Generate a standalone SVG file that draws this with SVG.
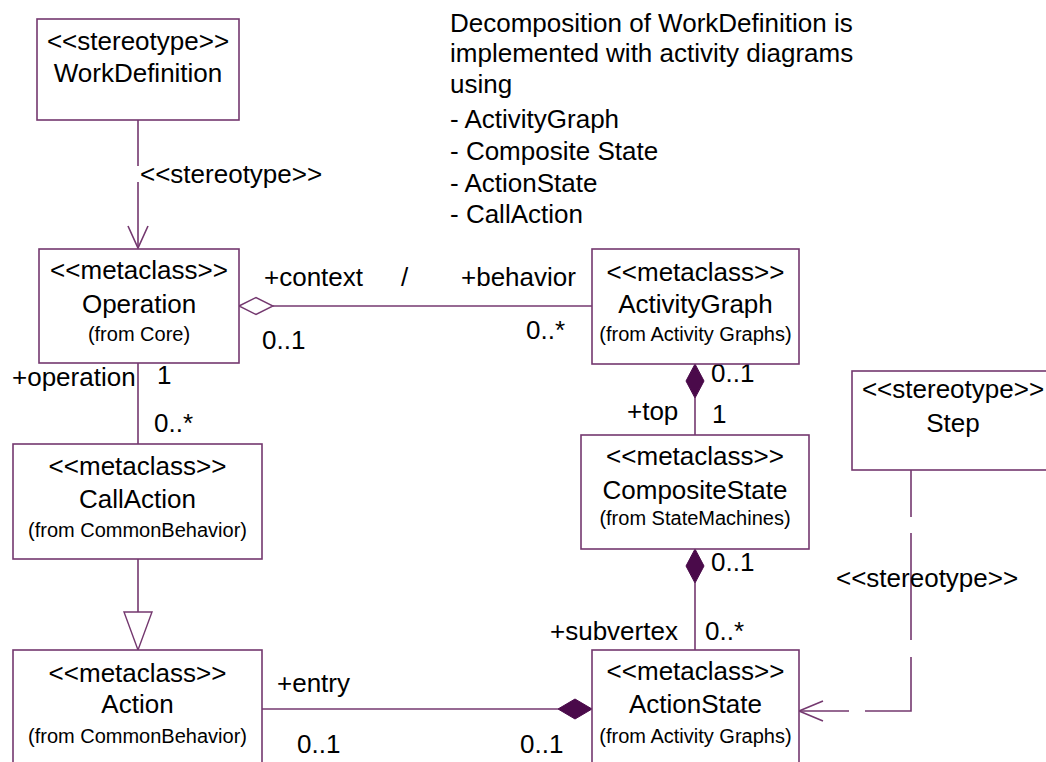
<svg xmlns="http://www.w3.org/2000/svg" width="1046" height="762" viewBox="0 0 1046 762">
<style>
.box{fill:#fff;stroke:#74386f;stroke-width:1.6}
.ln{fill:none;stroke:#74386f;stroke-width:1.6}
.fd{fill:#4a0a4a;stroke:#4a0a4a;stroke-width:1}
.hd{fill:#fff;stroke:#74386f;stroke-width:1.4}
text{font-family:"Liberation Sans",Arial,sans-serif;fill:#000}
.t{font-size:26px}
.c{text-anchor:middle}
.s{font-size:20px}
</style>
<rect width="1046" height="762" fill="#fff"/>
<g id="note">
<text class="t" x="450" y="32">Decomposition of WorkDefinition is</text>
<text class="t" x="450" y="62">implemented with activity diagrams</text>
<text class="t" x="450" y="93">using</text>
<text class="t" x="450" y="128">- ActivityGraph</text>
<text class="t" x="450" y="160">- Composite State</text>
<text class="t" x="450" y="192">- ActionState</text>
<text class="t" x="450" y="223">- CallAction</text>
</g>
<g id="connectors">
<path class="ln" d="M138 120V166M138 182V248"/>
<path class="ln" d="M128 226L138 248L148 226"/>
<text class="t" x="140" y="183">&lt;&lt;stereotype&gt;&gt;</text>
<path class="ln" d="M273 306H592"/>
<path class="hd" d="M239 306L256 297.5L273 306L256 314.5Z"/>
<text class="t" x="264" y="286">+context</text>
<text class="t" x="401" y="286">/</text>
<text class="t" x="461" y="286">+behavior</text>
<text class="t" x="262" y="349">0..1</text>
<text class="t" x="526" y="339">0..*</text>
<path class="ln" d="M695 398V435"/>
<path class="fd" d="M695 364L704 381L695 398L686 381Z"/>
<text class="t" x="711" y="382">0..1</text>
<text class="t" x="627" y="420">+top</text>
<text class="t" x="712" y="423">1</text>
<path class="ln" d="M695 583V650"/>
<path class="fd" d="M695 549L704 566L695 583L686 566Z"/>
<text class="t" x="711" y="571">0..1</text>
<text class="t" x="550" y="640">+subvertex</text>
<text class="t" x="705" y="640">0..*</text>
<path class="ln" d="M138 363V444"/>
<text class="t" x="12" y="386">+operation</text>
<text class="t" x="157" y="384">1</text>
<text class="t" x="154" y="432">0..*</text>
<path class="ln" d="M138 559V612"/>
<path class="hd" d="M124 612H152L138 650Z"/>
<path class="ln" d="M262 709H558"/>
<path class="fd" d="M558 709L575 699L592 709L575 719Z"/>
<text class="t" x="277" y="692">+entry</text>
<text class="t" x="297" y="753">0..1</text>
<text class="t" x="520" y="753">0..1</text>
<path class="ln" d="M911 470V517M911 533V640M911 657V711H865M849 711H799"/>
<path class="ln" d="M823 701L799 711L823 721"/>
<text class="t" x="836" y="587">&lt;&lt;stereotype&gt;&gt;</text>
</g>
<g id="WorkDefinition">
<rect class="box" x="37" y="19" width="202" height="101"/>
<text class="t c" x="138" y="50">&lt;&lt;stereotype&gt;&gt;</text>
<text class="t c" x="138" y="82">WorkDefinition</text>
</g>
<g id="Operation">
<rect class="box" x="39" y="249" width="200" height="114"/>
<text class="t c" x="139" y="279">&lt;&lt;metaclass&gt;&gt;</text>
<text class="t c" x="139" y="313">Operation</text>
<text class="s c" x="139" y="341">(from Core)</text>
</g>
<g id="ActivityGraph">
<rect class="box" x="592" y="249" width="207" height="115"/>
<text class="t c" x="695.5" y="281">&lt;&lt;metaclass&gt;&gt;</text>
<text class="t c" x="695.5" y="313">ActivityGraph</text>
<text class="s c" x="695.5" y="341">(from Activity Graphs)</text>
</g>
<g id="CompositeState">
<rect class="box" x="581" y="435" width="228" height="114"/>
<text class="t c" x="695" y="465">&lt;&lt;metaclass&gt;&gt;</text>
<text class="t c" x="695" y="499">CompositeState</text>
<text class="s c" x="695" y="525">(from StateMachines)</text>
</g>
<g id="Step">
<rect class="box" x="852" y="371" width="210" height="99"/>
<text class="t c" x="953" y="398">&lt;&lt;stereotype&gt;&gt;</text>
<text class="t c" x="953" y="432">Step</text>
</g>
<g id="CallAction">
<rect class="box" x="13" y="444" width="249" height="115"/>
<text class="t c" x="137.5" y="475">&lt;&lt;metaclass&gt;&gt;</text>
<text class="t c" x="137.5" y="508">CallAction</text>
<text class="s c" x="137.5" y="537">(from CommonBehavior)</text>
</g>
<g id="Action">
<rect class="box" x="13" y="650" width="249" height="120"/>
<text class="t c" x="137.5" y="682">&lt;&lt;metaclass&gt;&gt;</text>
<text class="t c" x="137.5" y="713">Action</text>
<text class="s c" x="137.5" y="743">(from CommonBehavior)</text>
</g>
<g id="ActionState">
<rect class="box" x="592" y="650" width="207" height="120"/>
<text class="t c" x="695.5" y="680">&lt;&lt;metaclass&gt;&gt;</text>
<text class="t c" x="695.5" y="713">ActionState</text>
<text class="s c" x="695.5" y="743">(from Activity Graphs)</text>
</g>
</svg>
